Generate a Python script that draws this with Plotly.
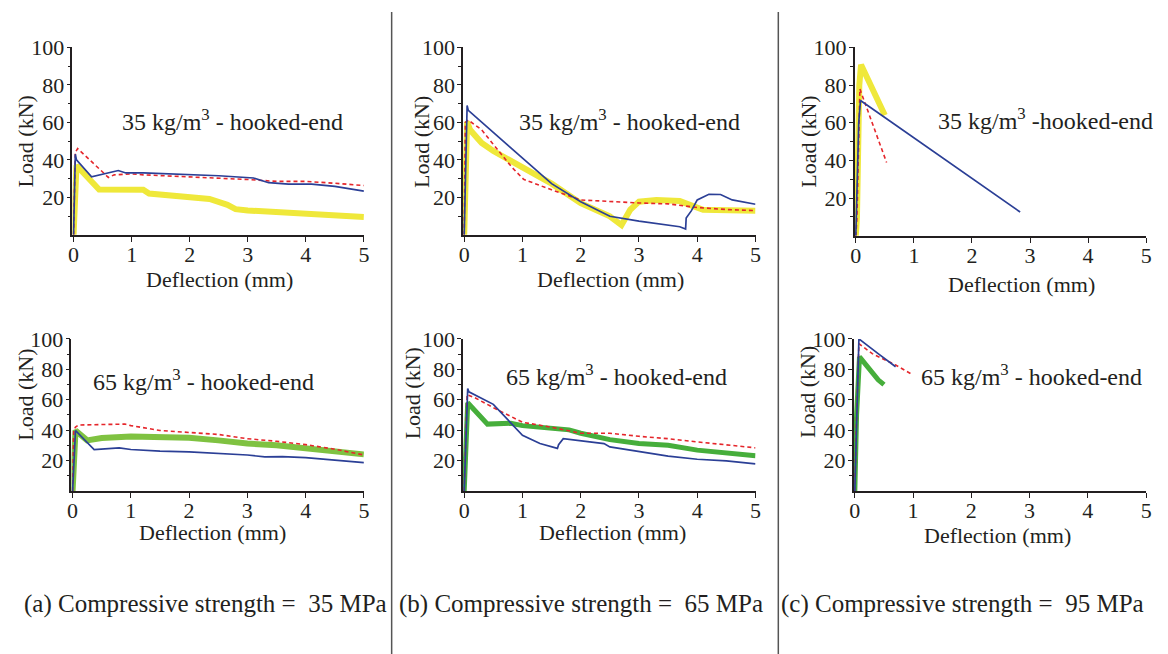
import plotly.graph_objects as go

W, H = 1168, 654
FONT = "'Liberation Serif', 'Times New Roman', Times, serif"
INK = "#231f20"

# ---------------- data (deflection mm, load kN) ----------------
# (a) 35 MPa, 35 kg/m3
a35_blue_x = [0, 0.02, 0.03, 0.05, 0.31, 0.77, 0.9, 1.2, 2.0, 2.5, 3.1, 3.36, 3.7, 4.1, 4.5, 5.0]
a35_blue_y = [0, 30, 43, 40, 31, 34.3, 33, 33, 32.2, 31.5, 30.3, 27.8, 27, 27, 25.8, 23.3]
a35_red_x = [0, 0.02, 0.03, 0.07, 0.6, 0.7, 1.0, 1.2, 2.0, 2.5, 3.0, 3.5, 4.0, 4.5, 5.0]
a35_red_y = [0, 30, 44, 46, 30.6, 32, 32.5, 32, 31, 30.3, 29.5, 28.5, 28.5, 27.5, 26.3]
a35_yel_x = [0, 0.03, 0.05, 0.44, 1.2, 1.3, 2.0, 2.34, 2.65, 2.79, 3.0, 3.5, 4.0, 4.5, 5.0]
a35_yel_y = [0, 30, 37, 24.2, 24, 22, 20.3, 19.1, 16, 13.7, 13, 12.3, 11, 10.5, 9.5]

# (b) 65 MPa, 35 kg/m3
b35_blue_x = [0, 0.03, 0.05, 0.07, 1.0, 1.5, 2.0, 2.5, 3.0, 3.5, 3.7, 3.8, 3.81, 3.9, 4.0, 4.2, 4.4, 4.6, 5.0]
b35_blue_y = [0, 40, 69, 66.4, 41.2, 27.3, 17.7, 9.9, 7.3, 5, 4.3, 3.1, 9, 12.9, 18.6, 21.6, 21.5, 18.6, 16.3]
b35_red_x = [0, 0.02, 0.07, 0.3, 0.48, 0.82, 1.02, 1.21, 1.5, 2.0, 2.5, 3.0, 3.5, 4.0, 4.5, 5.0]
b35_red_y = [0, 60, 61.2, 56, 49, 36, 29.6, 27.3, 24, 18.6, 17.7, 17, 16.5, 14.6, 13.5, 12.9]
b35_yel_x = [0, 0.03, 0.05, 0.1, 0.3, 0.5, 0.8, 1.0, 1.5, 2.0, 2.5, 2.7, 2.85, 3.0, 3.3, 3.7, 3.9, 4.1, 5.0]
b35_yel_y = [0, 35, 60.3, 56, 49, 44.7, 39.5, 36, 27.3, 16.9, 9.9, 5.2, 13.4, 17.7, 18.6, 18, 16, 13.4, 12.9]

# (c) 95 MPa, 35 kg/m3
c35_blue_x = [0, 0.05, 0.08, 2.83]
c35_blue_y = [0, 60, 71.8, 12.6]
c35_red_x = [0, 0.02, 0.07, 0.53]
c35_red_y = [0, 10, 77.9, 38.9]
c35_yel_x = [0, 0.02, 0.06, 0.09, 0.5]
c35_yel_y = [0, 10, 80, 90.8, 64]

# (a) 35 MPa, 65 kg/m3
a65_blue_x = [0, 0.03, 0.05, 0.37, 0.8, 1.0, 1.5, 2.0, 2.5, 3.0, 3.3, 3.6, 4.0, 4.5, 5.0]
a65_blue_y = [0, 30, 39.8, 27.3, 28.4, 27.3, 26.2, 25.8, 24.7, 23.7, 22.4, 22.6, 21.9, 20.4, 18.7]
a65_red_x = [0, 0.02, 0.05, 0.1, 0.9, 1.0, 1.5, 2.0, 2.5, 3.0, 3.5, 4.0, 4.5, 5.0]
a65_red_y = [0, 40, 42, 43.4, 44, 43, 39.8, 38.7, 37.2, 34.4, 32.7, 30.5, 27.5, 23.7]
a65_grn_x = [0, 0.03, 0.05, 0.25, 0.5, 1.0, 1.5, 2.0, 2.5, 3.0, 3.5, 4.0, 4.5, 5.0]
a65_grn_y = [0, 30, 39.8, 33.3, 34.8, 35.9, 35.9, 35, 33.3, 31.2, 30.1, 28, 26.5, 24.1]

# (b) 65 MPa, 65 kg/m3
b65_blue_x = [0, 0.04, 0.06, 0.08, 0.5, 1.0, 1.3, 1.6, 1.62, 1.7, 2.0, 2.4, 2.5, 3.0, 3.5, 4.0, 4.5, 5.0]
b65_blue_y = [0, 45, 67.3, 65.2, 57, 36.6, 31.2, 28, 30.5, 34.4, 32.9, 31.2, 29, 25.8, 23, 20.9, 19.8, 17.8]
b65_red_x = [0, 0.03, 0.05, 0.2, 0.5, 1.0, 1.5, 2.0, 2.5, 3.0, 3.5, 4.0, 4.5, 5.0]
b65_red_y = [0, 50, 63.4, 61, 54.8, 45.2, 41.9, 38, 38, 36, 34.4, 32.3, 30.3, 28.4]
b65_grn_x = [0, 0.04, 0.06, 0.4, 0.8, 1.0, 1.5, 1.8, 2.0, 2.5, 3.0, 3.5, 4.0, 4.5, 5.0]
b65_grn_y = [0, 40, 58, 44, 44.5, 43, 41.5, 40.2, 38, 33.8, 31.2, 30.1, 26.9, 24.7, 23.2]

# (c) 95 MPa, 65 kg/m3
c65_blue_x = [0, 0.05, 0.07, 0.4, 0.7]
c65_blue_y = [0, 87, 100, 90.3, 81.7]
c65_red_x = [0, 0.02, 0.07, 0.3, 0.7, 1.0]
c65_red_y = [0, 35, 96.8, 90.3, 82.8, 76.3]
c65_grn_x = [0, 0.03, 0.08, 0.3, 0.4, 0.5]
c65_grn_y = [0, 50, 88.2, 77.4, 73.1, 69.9]

x_ticks = [0, 1, 2, 3, 4, 5]
y_ticks = [20, 40, 60, 80, 100]
y_minor = [10, 30, 50, 70, 90]

panel_labels = ["35 kg/m<sup>3</sup> - hooked-end", "35 kg/m<sup>3</sup> - hooked-end",
                "35 kg/m<sup>3</sup> -hooked-end", "65 kg/m<sup>3</sup> - hooked-end",
                "65 kg/m<sup>3</sup> - hooked-end", "65 kg/m<sup>3</sup> - hooked-end"]
captions = ["(a) Compressive strength =  35 MPa", "(b) Compressive strength =  65 MPa",
            "(c) Compressive strength =  95 MPa"]
x_title = "Deflection (mm)"
y_title = "Load (kN)"

# ---------------- styles ----------------
BLUE = "#2b3f96"
RED = "#e5262b"
YEL = "#efe83a"
GRN_L = "#7fc241"
GRN_D = "#46ae3b"

panels = [
    [(a35_blue_x, a35_blue_y, "blue"), (a35_red_x, a35_red_y, "red"), (a35_yel_x, a35_yel_y, YEL, 6)],
    [(b35_blue_x, b35_blue_y, "blue"), (b35_red_x, b35_red_y, "red"), (b35_yel_x, b35_yel_y, YEL, 6)],
    [(c35_blue_x, c35_blue_y, "blue"), (c35_red_x, c35_red_y, "red"), (c35_yel_x, c35_yel_y, YEL, 6)],
    [(a65_blue_x, a65_blue_y, "blue"), (a65_red_x, a65_red_y, "red"), (a65_grn_x, a65_grn_y, GRN_L, 6)],
    [(b65_blue_x, b65_blue_y, "blue"), (b65_red_x, b65_red_y, "red"), (b65_grn_x, b65_grn_y, GRN_D, 5)],
    [(c65_blue_x, c65_blue_y, "blue"), (c65_red_x, c65_red_y, "red"), (c65_grn_x, c65_grn_y, GRN_D, 5)],
]

# pixel boxes (left, right, top, bottom)
boxes = [(69, 363, 36, 227), (463, 758, 36, 227), (858, 1152, 36, 228),
         (68, 363, 333, 488), (463, 758, 333, 488), (857, 1152, 333, 488)]
label_pos = [(230, 110), (631, 110), (1050, 109), (201, 375), (618, 370), (1036, 370)]
xt_pos = [(217, 273), (612, 273), (1026, 278), (210, 530), (614, 530), (1002, 533)]
yt_pos = [(22, 132), (421, 132), (812, 132), (22, 390), (412, 388), (811, 387)]
cap_pos = [(203, 603), (582, 603), (967, 603)]


def px(x):
    return x / W


def py(y):
    return 1 - y / H


fig = go.Figure()
annotations = []
layout = {}
for i, (series, box) in enumerate(zip(panels, boxes)):
    n = i + 1
    xa = "x" if n == 1 else f"x{n}"
    ya = "y" if n == 1 else f"y{n}"
    for k in [2, 1, 0]:
        s = series[k]
        sx, sy, kind = s[0], s[1], s[2]
        if kind == "blue":
            line = dict(color=BLUE, width=1.7)
        elif kind == "red":
            line = dict(color=RED, width=1.6, dash="4px,3px")
        else:
            line = dict(color=kind, width=s[3])
        fig.add_trace(go.Scatter(x=sx, y=sy, mode="lines", line=line,
                                 xaxis=xa, yaxis=ya, showlegend=False, hoverinfo="skip"))
    l, r, t, b = box
    axis_common = dict(showline=True, linecolor=INK, linewidth=1.5, ticks="outside",
                       tickcolor=INK, tickwidth=1.3, showgrid=False, zeroline=False,
                       tickfont=dict(family=FONT, size=22, color=INK))
    layout[f"xaxis{'' if n == 1 else n}"] = dict(
        domain=[px(l), px(r)], anchor=ya, range=[-0.02, 5.0],
        tickmode="array", tickvals=x_ticks, ticklen=5, ticklabelstandoff=-6, **axis_common)
    layout[f"yaxis{'' if n == 1 else n}"] = dict(
        domain=[py(b), py(t)], anchor=xa, range=[0, 100],
        tickmode="array", tickvals=y_ticks, ticklen=4, ticklabelstandoff=-2,
        minor=dict(tickvals=y_minor, ticks="outside", ticklen=3, tickcolor=INK, tickwidth=1),
        **axis_common)
    lx, ly = label_pos[i]
    annotations.append(dict(x=px(lx), y=py(ly), xref="paper", yref="paper", text=panel_labels[i],
                            showarrow=False, xanchor="center", yanchor="middle",
                            font=dict(family=FONT, size=24, color=INK)))
    tx, ty = xt_pos[i]
    annotations.append(dict(x=px(tx), y=py(ty), xref="paper", yref="paper", text=x_title,
                            showarrow=False, xanchor="center", yanchor="middle",
                            font=dict(family=FONT, size=22, color=INK)))
    vx, vy = yt_pos[i]
    annotations.append(dict(x=px(vx), y=py(vy), xref="paper", yref="paper", text=y_title,
                            showarrow=False, xanchor="center", yanchor="middle", textangle=-90,
                            font=dict(family=FONT, size=22, color=INK)))

for cap, (cx, cy) in zip(captions, cap_pos):
    annotations.append(dict(x=px(cx), y=py(cy), xref="paper", yref="paper", text=cap,
                            showarrow=False, xanchor="center", yanchor="middle",
                            font=dict(family=FONT, size=25, color=INK)))

shapes = [dict(type="line", xref="paper", yref="paper", x0=px(sx), x1=px(sx), y0=0, y1=1,
               line=dict(color="#555555", width=1.5)) for sx in (391, 781)]

fig.update_layout(width=W, height=H, margin=dict(l=0, r=0, t=0, b=0),
                  paper_bgcolor="white", plot_bgcolor="white",
                  font=dict(family=FONT, color=INK),
                  annotations=annotations, shapes=shapes, **layout)

fig.write_html("out.html")
